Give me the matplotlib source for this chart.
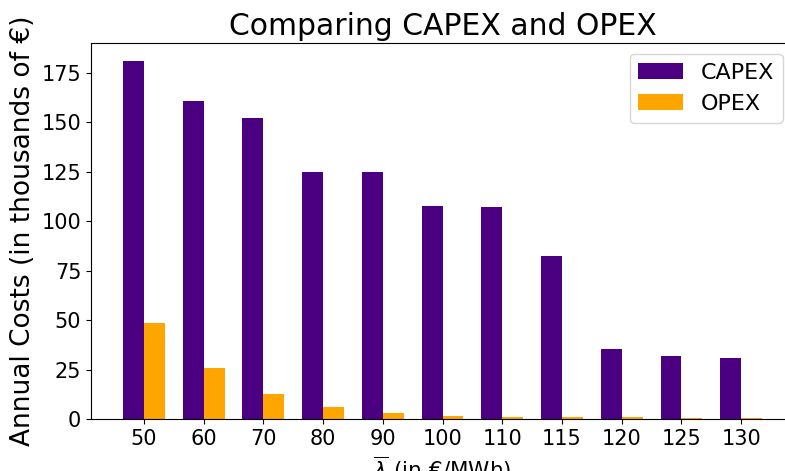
import numpy as np
from matplotlib import pyplot as plt

# 가격 구간 (€/MWh)
lambdas = ['50', '60', '70', '80', '90', '100', '110', '115', '120', '125', '130']
# 연간 비용 (천 유로)
capex = [181.0, 160.8, 152.3, 125.0, 124.6, 107.8, 106.9, 82.2, 35.3, 31.8, 30.8]
opex = [48.3, 25.7, 12.6, 5.9, 2.9, 1.6, 1.0, 1.0, 1.0, 0.5, 0.4]


def plot_costs():
    fig = plt.figure(figsize=(7.85, 4.71), dpi=100)
    ax = fig.add_axes([0.116, 0.1104, 0.8955, 0.7986])

    x = np.arange(len(lambdas))
    w = 0.35
    ax.bar(x - w / 2, capex, w, color='indigo', label='CAPEX')
    ax.bar(x + w / 2, opex, w, color='orange', label='OPEX')

    ax.set_xticks(x)
    ax.set_xticklabels(lambdas)
    ax.set_yticks(np.arange(0, 176, 25))
    ax.tick_params(axis='both', labelsize=15)

    ax.set_title('Comparing CAPEX and OPEX', fontsize=21.5)
    ax.set_ylabel('Annual Costs (in thousands of €)', fontsize=19)
    ax.set_xlabel(r'$\overline{\lambda}$ (in €/MWh)', fontsize=15.5)
    ax.legend(loc='upper right', fontsize=16)

    fig.savefig('out.png', dpi=100)


if __name__ == '__main__':
    plot_costs()
